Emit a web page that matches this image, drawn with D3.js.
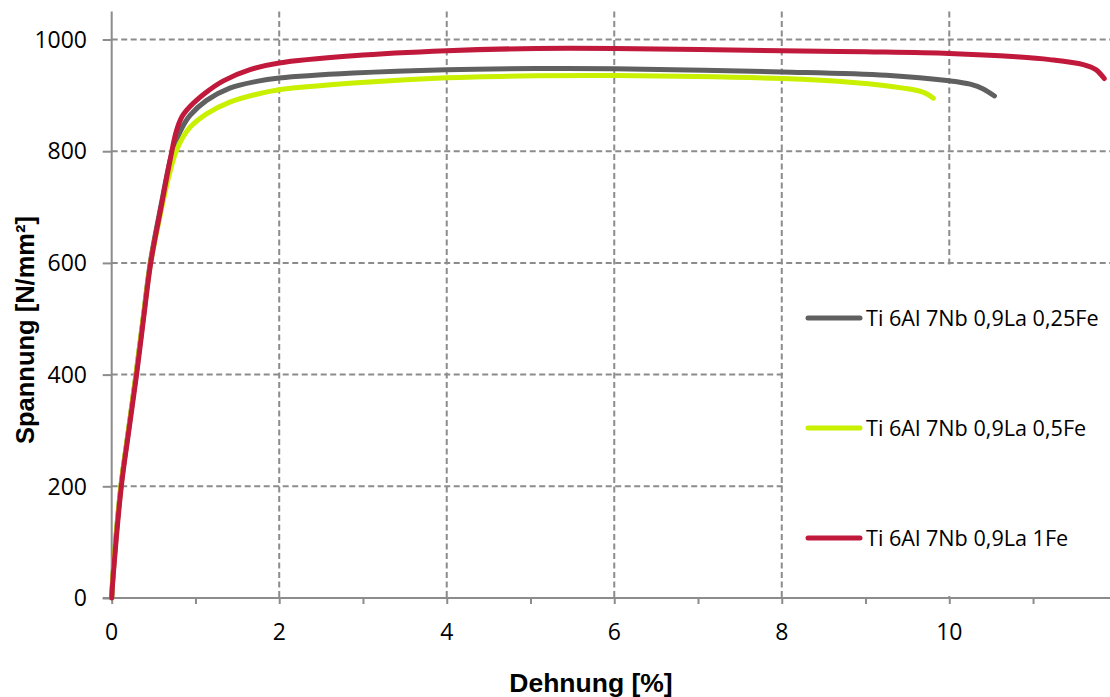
<!DOCTYPE html>
<html>
<head>
<meta charset="utf-8">
<script src="https://cdn.jsdelivr.net/npm/d3@7"></script>
<style>
  html, body { margin: 0; padding: 0; background: #fff; }
  svg { display: block; }
</style>
</head>
<body>
<svg id="chart" width="1110" height="697"></svg>
<script>
// ---- data ----
const seriesNames = ["Ti 6Al 7Nb 0,9La 0,25Fe", "Ti 6Al 7Nb 0,9La 0,5Fe", "Ti 6Al 7Nb 0,9La 1Fe"];
const seriesColors = ["#606060", "#c8f000", "#c0193c"];

// Dehnung [%] / Spannung [N/mm²]
const strain025 = [0, 0.015, 0.11, 0.20, 0.29, 0.375, 0.46, 0.585, 0.705, 0.77, 0.84, 0.935, 1.133, 1.41, 1.73, 2.0, 2.885, 4, 5.07, 6, 8, 9.25, 10, 10.25, 10.4, 10.54];
const stress025 = [0, 40, 200, 300, 400, 500, 600, 700, 788, 818, 842, 864, 891, 913, 925, 931, 940, 946, 948, 947.5, 942, 936, 926, 920, 912, 899];

const strain05 = [0, 0.015, 0.11, 0.20, 0.29, 0.375, 0.465, 0.60, 0.69, 0.77, 0.85, 0.935, 1.133, 1.41, 1.73, 2.0, 2.885, 4, 5.07, 6, 8, 8.85, 9.45, 9.7, 9.81];
const stress05 = [0, 40, 200, 300, 400, 500, 600, 700, 760, 800, 825, 843, 867, 888, 902, 910, 922, 931.5, 935, 935.5, 930, 923, 913, 905, 895];

const strain1 = [0, 0.018, 0.115, 0.205, 0.297, 0.38, 0.466, 0.59, 0.705, 0.77, 0.84, 0.935, 1.133, 1.333, 1.651, 2.0, 2.885, 4, 5.07, 6, 8, 9, 10, 10.8, 11.2, 11.6, 11.75, 11.85];
const stress1 = [0, 40, 200, 300, 400, 500, 600, 700, 790, 835, 862, 880, 906, 926, 946, 958, 971, 980, 984, 984, 980, 978, 975, 969, 964, 955, 946, 930];

const xTicks = [0, 2, 4, 6, 8, 10];
const xMinorTicks = [1, 3, 5, 7, 9, 11];
const yTicks = [0, 200, 400, 600, 800, 1000];
const xTitle = "Dehnung [%]";
const yTitle = "Spannung [N/mm²]";

// ---- drawing ----
const svg = d3.select("#chart");
const x = d3.scaleLinear().domain([0, 12]).range([111.7, 1116.8]);
const y = d3.scaleLinear().domain([0, 1050]).range([598, 11.6]);
const gridColor = "#8c8c8c";
const tickFont = "'Open Sans', 'Noto Sans', sans-serif";

// gridlines
svg.append("g").selectAll("line.hg").data(yTicks.filter(d => d > 0)).join("line")
  .attr("x1", x(0)).attr("x2", 1110)
  .attr("y1", d => y(d)).attr("y2", d => y(d))
  .attr("stroke", gridColor).attr("stroke-width", 2).attr("stroke-dasharray", "6,3.5");
svg.append("g").selectAll("line.vg").data(xTicks.filter(d => d > 0)).join("line")
  .attr("x1", d => x(d)).attr("x2", d => x(d))
  .attr("y1", y(1050)).attr("y2", y(0))
  .attr("stroke", gridColor).attr("stroke-width", 2).attr("stroke-dasharray", "6,3.5");

// axes
const xAxis = d3.axisBottom(x).tickValues(xTicks.concat(xMinorTicks)).tickSize(6).tickFormat("");
const gx = svg.append("g").attr("transform", `translate(0,${y(0)})`).call(xAxis);
const yAxis = d3.axisLeft(y).tickValues(yTicks).tickSize(9).tickFormat("");
const gy = svg.append("g").attr("transform", `translate(${x(0)},0)`).call(yAxis);
[gx, gy].forEach(g => {
  g.select(".domain").attr("stroke", gridColor).attr("stroke-width", 2);
  g.selectAll(".tick line").attr("stroke", gridColor).attr("stroke-width", 2);
});
gx.select(".domain").attr("d", `M${x(0) - 9},0H1110`);
gy.select(".domain").attr("d", `M0,${y(1050)}V${y(0)}`);

// tick labels
svg.append("g").selectAll("text").data(xTicks).join("text")
  .attr("x", d => x(d)).attr("y", 640)
  .attr("text-anchor", "middle")
  .attr("font-family", tickFont).attr("font-size", 23).attr("fill", "#000")
  .text(d => d);
svg.append("g").selectAll("text").data(yTicks).join("text")
  .attr("x", 87).attr("y", d => y(d)).attr("dy", "0.36em")
  .attr("text-anchor", "end")
  .attr("font-family", tickFont).attr("font-size", 23).attr("fill", "#000")
  .text(d => d);

// axis titles
svg.append("text")
  .attr("x", 591).attr("y", 692)
  .attr("text-anchor", "middle")
  .attr("font-family", "'Liberation Sans', Arial, sans-serif").attr("font-weight", "bold")
  .attr("font-size", 26.5).attr("fill", "#000")
  .text(xTitle);
svg.append("text")
  .attr("transform", `translate(34,330) rotate(-90)`)
  .attr("text-anchor", "middle")
  .attr("font-family", "'Liberation Sans', Arial, sans-serif").attr("font-weight", "bold")
  .attr("font-size", 25.5).attr("fill", "#000")
  .text(yTitle);

// series
const series = [
  { name: seriesNames[0], color: seriesColors[0], pts: strain025.map((d, i) => [d, stress025[i]]) },
  { name: seriesNames[1], color: seriesColors[1], pts: strain05.map((d, i) => [d, stress05[i]]) },
  { name: seriesNames[2], color: seriesColors[2], pts: strain1.map((d, i) => [d, stress1[i]]) }
];
const line = d3.line().x(d => x(d[0])).y(d => y(d[1])).curve(d3.curveCatmullRom.alpha(0.5));
svg.append("g").selectAll("path").data(series).join("path")
  .attr("d", d => line(d.pts))
  .attr("fill", "none")
  .attr("stroke", d => d.color)
  .attr("stroke-width", 5)
  .attr("stroke-linecap", "round")
  .attr("stroke-linejoin", "round");

// legend
svg.append("rect").attr("x", 785).attr("y", 265).attr("width", 330).attr("height", 331).attr("fill", "#fff");
const legY = [318, 428, 538];
const lg = svg.append("g").selectAll("g").data(series).join("g")
  .attr("transform", (d, i) => `translate(0,${legY[i]})`);
lg.append("line").attr("x1", 808).attr("x2", 860).attr("y1", 0).attr("y2", 0)
  .attr("stroke", d => d.color).attr("stroke-width", 5).attr("stroke-linecap", "round");
lg.append("text").attr("x", 866).attr("y", 0).attr("dy", "0.36em")
  .attr("font-family", tickFont).attr("font-size", 21.6).attr("fill", "#000")
  .text(d => d.name);
</script>
</body>
</html>
